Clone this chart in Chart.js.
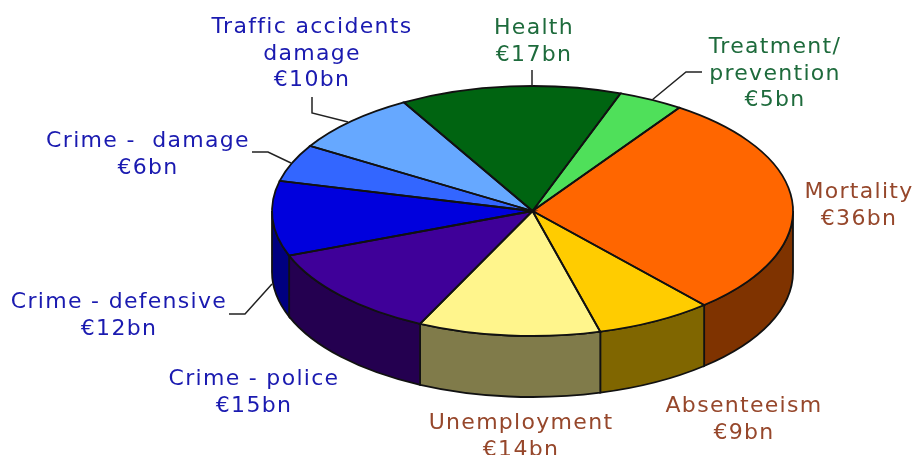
<!DOCTYPE html>
<html>
<head>
<meta charset="utf-8">
<title>Cost of alcohol</title>
<script src="https://cdn.jsdelivr.net/npm/chart.js@4"></script>
<style>
    body { margin: 0; background: #fff; }
    canvas { display: block; }
</style>
</head>
<body>
<canvas id="chart" width="913" height="455"></canvas>
<script>
// Data, clockwise from the Health slice
const categories = ['Health', 'Treatment/\nprevention', 'Mortality', 'Absenteeism', 'Unemployment',
    'Crime - police', 'Crime - defensive', 'Crime -  damage', 'Traffic accidents\ndamage'];
const costs = [17, 5, 36, 9, 14, 15, 12, 6, 10];

const topColors = ['#006411', '#4FE05A', '#FF6600', '#FFCC00', '#FFF58C', '#3F0099', '#0000DD', '#3366FF', '#66A8FF'];
const wallColors = ['#003208', '#287030', '#7F3300', '#806600', '#807B4A', '#240050', '#000080', '#1A3380', '#335480'];
const textColors = ['#1E6B3C', '#1E6B3C', '#96472B', '#96472B', '#96472B', '#1A1AB0', '#1A1AB0', '#1A1AB0', '#1A1AB0'];

// Label layout: centre x, first baseline
const labelX = [534, 775, 859, 744, 521, 254, 119, 148, 312];
const labelY = [34, 53, 198, 412, 429, 385, 308, 147, 33];
const lineGap = 26.5;

// Leader lines, same order as the categories (null = no line)
const leaders = [
    [[532, 70], [532, 86]],
    [[702, 72], [686, 72], [652, 100]],
    null, null, null, null,
    [[229, 314], [245, 314], [272, 284]],
    [[252, 152], [268, 152], [291, 163]],
    [[312, 97], [312, 113], [348, 122]]
];

// Ellipse the flat pie gets squashed on to
const cx = 532.5, cy = 211, rx = 260.5, ry = 125, depth = 61;
const outline = '#111';

const pie3d = {
    id: 'pie3d',
    beforeDatasetsDraw(chart) {
        const ctx = chart.ctx;
        const arcs = chart.getDatasetMeta(0).data;

        // side wall, only the front half of the ellipse shows
        arcs.forEach((arc, i) => {
            const a0 = Math.max(arc.startAngle, 0);
            const a1 = Math.min(arc.endAngle, Math.PI);
            const wraps = arc.startAngle + Math.PI * 2 < Math.PI;
            const from = wraps ? arc.startAngle + Math.PI * 2 : a0;
            const to = wraps ? Math.min(arc.endAngle + Math.PI * 2, Math.PI) : a1;
            if (to <= from) return;
            ctx.beginPath();
            ctx.ellipse(cx, cy, rx, ry, 0, from, to);
            ctx.ellipse(cx, cy + depth, rx, ry, 0, to, from, true);
            ctx.closePath();
            ctx.fillStyle = wallColors[i];
            ctx.fill();
            ctx.lineWidth = 1.8;
            ctx.strokeStyle = outline;
            ctx.stroke();
        });

        // squash the pie itself
        const arc = arcs[0];
        ctx.save();
        ctx.translate(cx, cy);
        ctx.scale(rx / arc.outerRadius, ry / arc.outerRadius);
        ctx.translate(-arc.x, -arc.y);
    },
    afterDatasetsDraw(chart) {
        const ctx = chart.ctx;
        ctx.restore();

        // outlines done here so the pen is not squashed with the pie
        chart.getDatasetMeta(0).data.forEach(arc => {
            ctx.beginPath();
            ctx.moveTo(cx, cy);
            ctx.ellipse(cx, cy, rx, ry, 0, arc.startAngle, arc.endAngle);
            ctx.closePath();
            ctx.lineWidth = 1.8;
            ctx.strokeStyle = outline;
            ctx.stroke();
        });

        // leader lines
        ctx.lineWidth = 1.5;
        ctx.strokeStyle = '#222';
        leaders.forEach(points => {
            if (!points) return;
            ctx.beginPath();
            points.forEach((p, i) => i ? ctx.lineTo(p[0], p[1]) : ctx.moveTo(p[0], p[1]));
            ctx.stroke();
        });

        // labels
        ctx.font = '22px "DejaVu Sans"';
        ctx.letterSpacing = '1.3px';
        ctx.textAlign = 'center';
        ctx.textBaseline = 'alphabetic';
        categories.forEach((name, i) => {
            const lines = name.split('\n').concat('€' + costs[i] + 'bn');
            ctx.fillStyle = textColors[i];
            lines.forEach((line, n) => ctx.fillText(line, labelX[i], labelY[i] + n * lineGap));
        });
    }
};

new Chart(document.getElementById('chart'), {
    type: 'pie',
    data: {
        labels: categories,
        datasets: [{
            data: costs,
            backgroundColor: topColors,
            borderWidth: 0,
            clip: false
        }]
    },
    options: {
        responsive: false,
        animation: false,
        rotation: -29.6,
        layout: { padding: 0 },
        plugins: {
            legend: { display: false },
            tooltip: { enabled: false }
        }
    },
    plugins: [pie3d]
});
</script>
</body>
</html>
